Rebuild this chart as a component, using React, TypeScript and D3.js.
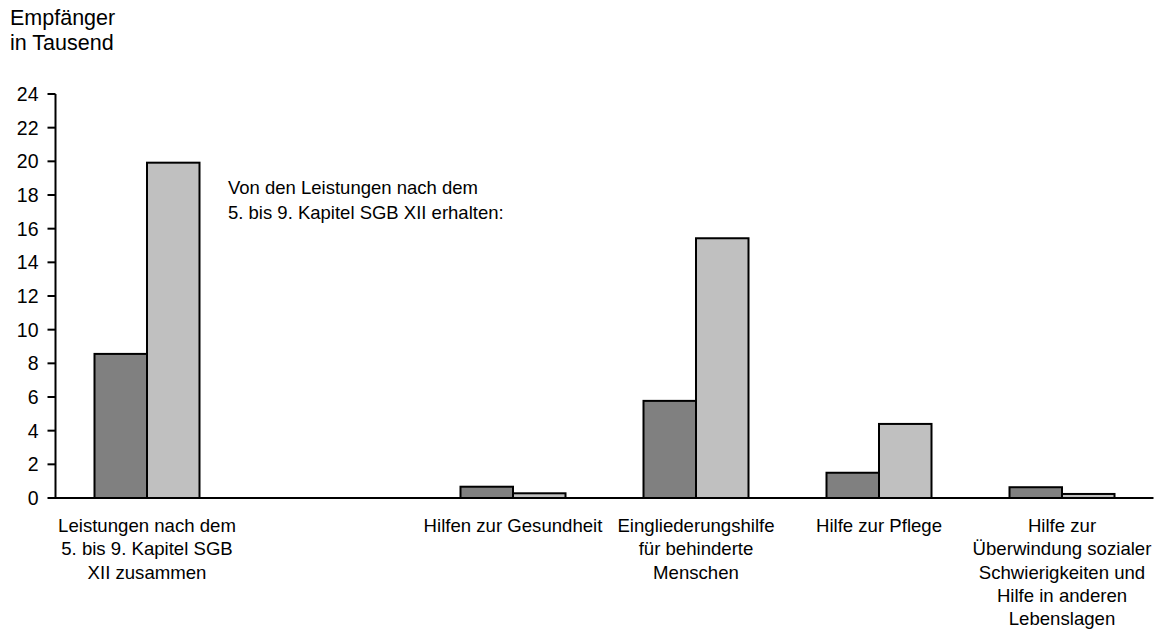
import React from "react";
import * as d3 from "d3";

const categories = [
  "Leistungen nach dem|5. bis 9. Kapitel SGB|XII zusammen",
  "",
  "Hilfen zur Gesundheit",
  "Eingliederungshilfe|für behinderte|Menschen",
  "Hilfe zur Pflege",
  "Hilfe zur|Überwindung sozialer|Schwierigkeiten und|Hilfe in anderen|Lebenslagen",
];
const seriesDark = [8.56, null, 0.67, 5.77, 1.5, 0.64];
const seriesLight = [19.92, null, 0.28, 15.43, 4.4, 0.24];
const yTicks = [0, 2, 4, 6, 8, 10, 12, 14, 16, 18, 20, 22, 24];

const W = 1162;
const H = 636;
const left = 55.5;
const right = 1153.5;
const top = 94;
const bottom = 498;
const font = "'Liberation Sans', Arial, sans-serif";

export default function App() {
  const x = d3.scaleBand<number>().domain(d3.range(categories.length)).range([left, right]);
  const y = d3.scaleLinear().domain([0, 24]).range([bottom, top]);
  const bw = 52.5;

  return (
    <svg width={W} height={H} style={{ position: "absolute", left: 0, top: 0, background: "#fff" }} fontFamily={font}>
      <text x={10} y={25} fontSize={21.5} fill="#000">Empfänger</text>
      <text x={10} y={50} fontSize={21.5} fill="#000">in Tausend</text>
      <text x={228} y={194} fontSize={18.5} fill="#000">Von den Leistungen nach dem</text>
      <text x={228} y={219} fontSize={18.5} fill="#000">5. bis 9. Kapitel SGB XII erhalten:</text>

      {categories.map((c, i) => {
        const cx = (x(i) as number) + x.bandwidth() / 2;
        const d = seriesDark[i];
        const l = seriesLight[i];
        return (
          <g key={i}>
            {d != null && (
              <rect x={cx - bw} y={y(d)} width={bw} height={y(0) - y(d)} fill="#808080" stroke="#000" strokeWidth={2} />
            )}
            {l != null && (
              <rect x={cx} y={y(l)} width={bw} height={y(0) - y(l)} fill="#c0c0c0" stroke="#000" strokeWidth={2} />
            )}
            {c.split("|").filter((s) => s).map((line, j) => (
              <text key={j} x={cx} y={532 + j * 23.3} fontSize={18.6} textAnchor="middle" fill="#000">{line}</text>
            ))}
          </g>
        );
      })}

      <line x1={left} x2={left} y1={top} y2={bottom} stroke="#000" strokeWidth={2} />
      <line x1={left - 1} x2={right} y1={bottom} y2={bottom} stroke="#000" strokeWidth={2} />
      {yTicks.map((t) => (
        <g key={t}>
          <line x1={left - 8} x2={left} y1={y(t)} y2={y(t)} stroke="#000" strokeWidth={2} />
          <text x={left - 17} y={y(t) + 7} fontSize={19.5} textAnchor="end" fill="#000">{t}</text>
        </g>
      ))}
    </svg>
  );
}
